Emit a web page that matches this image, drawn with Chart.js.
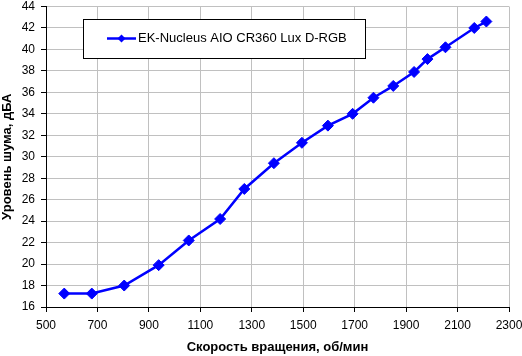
<!DOCTYPE html>
<html>
<head>
<meta charset="utf-8">
<script src="https://cdn.jsdelivr.net/npm/chart.js@4/dist/chart.umd.min.js"></script>
<style>
html,body{margin:0;padding:0;background:#fff;}
#wrap{position:relative;width:522px;height:356px;}
</style>
</head>
<body>
<div id="wrap"><canvas id="c" width="522" height="356"></canvas></div>
<script>
const seriesName = "EK-Nucleus AIO CR360 Lux D-RGB";
const rpm = [571, 678, 804, 938, 1055, 1177, 1271, 1386, 1495, 1596, 1692, 1773, 1850, 1931, 1983, 2053, 2165, 2212];
const noise = [17.25, 17.25, 18.0, 19.9, 22.2, 24.2, 27.0, 29.4, 31.3, 32.9, 34.0, 35.5, 36.6, 37.9, 39.1, 40.2, 42.0, 42.6];
const xTitle = "Скорость вращения, об/мин";
const yTitle = "Уровень шума, дБА";
const xMin = 500, xMax = 2300, xStep = 200;
const yMin = 16, yMax = 44, yStep = 2;

const FONT = "'Liberation Sans', Arial, sans-serif";
const BLUE = "#0000FF";

const legendPlugin = {
  id: 'boxLegend',
  afterDraw(chart) {
    const ctx = chart.ctx;
    const ds = chart.data.datasets[0];
    ctx.save();
    ctx.fillStyle = '#fff';
    ctx.fillRect(83.5, 19.5, 282, 39);
    ctx.strokeStyle = '#000';
    ctx.lineWidth = 1;
    ctx.strokeRect(83.5, 19.5, 282, 39);
    const cy = 38.5;
    ctx.strokeStyle = ds.borderColor;
    ctx.lineWidth = 2.5;
    ctx.beginPath();
    ctx.moveTo(107, cy);
    ctx.lineTo(136, cy);
    ctx.stroke();
    ctx.fillStyle = ds.borderColor;
    ctx.beginPath();
    const r = 4;
    ctx.moveTo(121.5, cy - r);
    ctx.lineTo(121.5 + r, cy);
    ctx.lineTo(121.5, cy + r);
    ctx.lineTo(121.5 - r, cy);
    ctx.closePath();
    ctx.fill();
    ctx.fillStyle = '#000';
    ctx.font = "13px " + FONT;
    ctx.textBaseline = 'middle';
    ctx.textAlign = 'left';
    ctx.fillText(ds.label, 138, cy);
    ctx.restore();
  }
};

new Chart(document.getElementById('c'), {
  type: 'line',
  data: {
    datasets: [{
      label: seriesName,
      data: rpm.map((x, i) => ({x: x, y: noise[i]})),
      borderColor: BLUE,
      backgroundColor: BLUE,
      borderWidth: 2.5,
      pointStyle: 'rectRot',
      pointRadius: 5.5,
      pointBorderWidth: 1,
      pointBackgroundColor: BLUE,
      pointBorderColor: BLUE,
      tension: 0,
      fill: false
    }]
  },
  options: {
    responsive: false,
    animation: false,
    devicePixelRatio: 1,
    layout: {padding: {top: 5, right: 13, left: 0, bottom: 0}},
    plugins: {legend: {display: false}, tooltip: {enabled: false}},
    scales: {
      x: {
        type: 'linear',
        min: xMin, max: xMax,
        afterFit(s) { s.height = 49; s.paddingLeft = 0; s.paddingRight = 0; },
        ticks: {stepSize: xStep, color: '#000', font: {family: FONT, size: 12}, padding: 6, maxRotation: 0,
                callback: v => String(v)},
        grid: {color: '#c0c0c0', tickColor: '#000', tickLength: 5, lineWidth: 1},
        border: {color: '#000', width: 1},
        title: {display: true, text: xTitle, color: '#000', font: {family: FONT, size: 13, weight: 'bold'}, padding: {top: 0, bottom: 1}}
      },
      y: {
        min: yMin, max: yMax,
        afterFit(s) { s.width = 46; s.paddingTop = 0; s.paddingBottom = 0; },
        ticks: {stepSize: yStep, color: '#000', font: {family: FONT, size: 12}, padding: 6,
                callback: v => String(v)},
        grid: {color: '#c0c0c0', tickColor: '#000', tickLength: 5, lineWidth: 1},
        border: {color: '#000', width: 1},
        title: {display: true, text: yTitle, color: '#000', font: {family: FONT, size: 13, weight: 'bold'}, padding: {top: 0, bottom: 0}}
      }
    }
  },
  plugins: [legendPlugin]
});
</script>
</body>
</html>
